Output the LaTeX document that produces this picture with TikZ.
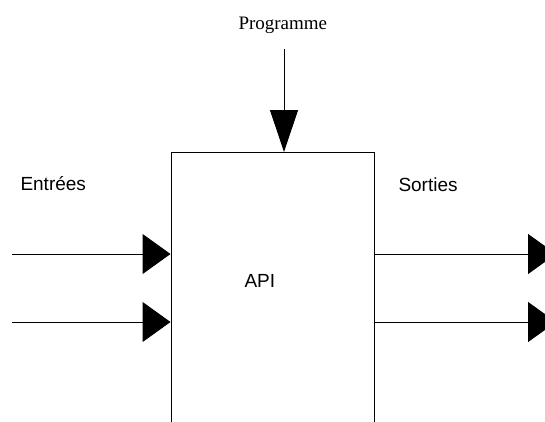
\documentclass[tikz,border=0pt]{standalone}
\usepackage{fontspec}
\setmainfont{Liberation Sans}
\newfontfamily\progfont{Liberation Serif}
\usetikzlibrary{arrows.meta}

\begin{document}
\begin{tikzpicture}[x=1pt,y=-1pt,line width=1pt,
    lbl/.style={inner sep=0pt,anchor=base west,font=\fontsize{19}{22}\selectfont},
    sidearrow/.style={-{Triangle[length=28pt,width=40pt]}},
    toparrow/.style={-{Triangle[length=42pt,width=28pt]}}]

      \useasboundingbox (0,0) rectangle (545,421);

      % the block, open at the bottom
      \node[draw,inner sep=0pt,minimum width=203pt,minimum height=300pt,anchor=north]
        (api) at (272.5,152) {};

      \begin{scope}[every node/.style={lbl}]
        \node (prog)    at (238,29)  {\progfont Programme};
        \node (entrees) at (20,190)  {Entrées};
        \node (sorties) at (398,191) {Sorties};
        \node (apitxt)  at (244,287) {API};
      \end{scope}

      \coordinate (top)  at (284,49);
      \coordinate (in1)  at (12,254);
      \coordinate (in2)  at (12,322);
      \coordinate (out1) at (556,254);
      \coordinate (out2) at (556,322);

      \draw[toparrow]  (top) -- (top |- api.north);
      \draw[sidearrow] (in1) -- (in1 -| api.west);
      \draw[sidearrow] (in2) -- (in2 -| api.west);
      \draw[sidearrow] (out1 -| api.east) -- (out1);
      \draw[sidearrow] (out2 -| api.east) -- (out2);

    \end{tikzpicture}
\end{document}
